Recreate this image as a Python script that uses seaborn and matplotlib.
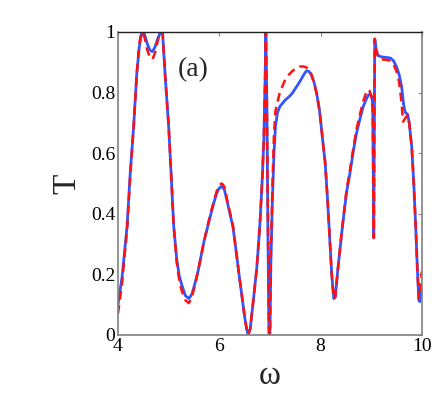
import numpy as np
import pandas as pd
import seaborn as sns
import matplotlib
matplotlib.use("Agg")
import matplotlib.pyplot as plt

# frequency samples (solid blue curve)
omega_blue = [4.00, 4.04, 4.08, 4.13, 4.18, 4.24, 4.31, 4.37, 4.42, 4.47, 4.52, 4.58,
              4.63, 4.68, 4.73, 4.79, 4.84, 4.88, 4.93, 5.00, 5.05, 5.10, 5.16, 5.21,
              5.26, 5.33, 5.40, 5.46, 5.52, 5.58, 5.64, 5.70, 5.76, 5.82, 5.89, 5.95,
              6.00, 6.05, 6.10, 6.15, 6.21, 6.27, 6.33, 6.39, 6.44, 6.50, 6.54, 6.57,
              6.61, 6.67, 6.74, 6.80, 6.85, 6.88, 6.90, 6.92, 6.94, 6.96, 6.98, 7.00,
              7.02, 7.05, 7.08, 7.11, 7.15, 7.20, 7.30, 7.40, 7.45, 7.52, 7.59, 7.66,
              7.72, 7.77, 7.82, 7.87, 7.92, 7.98, 8.05, 8.09, 8.14, 8.18, 8.22, 8.26,
              8.29, 8.34, 8.42, 8.51, 8.58, 8.65, 8.71, 8.78, 8.84, 8.90, 8.95, 8.98,
              9.01, 9.03, 9.05, 9.07, 9.10, 9.14, 9.20, 9.30, 9.38, 9.44, 9.50, 9.55,
              9.60, 9.64, 9.67, 9.72, 9.75, 9.80, 9.84, 9.88, 9.91, 9.94, 9.96, 9.98, 10.00]
T_blue = [0.10, 0.145, 0.19, 0.275, 0.36, 0.53, 0.69, 0.86, 0.95, 1.00, 0.995, 0.96,
          0.94, 0.935, 0.95, 0.98, 1.00, 1.00, 0.86, 0.69, 0.53, 0.36, 0.25, 0.195,
          0.165, 0.13, 0.12, 0.135, 0.17, 0.21, 0.26, 0.31, 0.35, 0.39, 0.435, 0.468,
          0.485, 0.49, 0.48, 0.445, 0.40, 0.357, 0.28, 0.20, 0.137, 0.06, 0.02, 0.00,
          0.02, 0.11, 0.22, 0.36, 0.52, 0.65, 0.80, 1.00, 0.75, 0.35, 0.00, 0.00,
          0.25, 0.45, 0.60, 0.69, 0.735, 0.755, 0.775, 0.79, 0.80, 0.818, 0.836, 0.857,
          0.872, 0.87, 0.858, 0.835, 0.80, 0.74, 0.63, 0.57, 0.44, 0.32, 0.20, 0.12,
          0.125, 0.215, 0.34, 0.468, 0.534, 0.61, 0.666, 0.715, 0.753, 0.778, 0.793, 0.795,
          0.786, 0.76, 0.32, 0.977, 0.94, 0.922, 0.918, 0.916, 0.914, 0.905, 0.885, 0.86,
          0.82, 0.76, 0.735, 0.728, 0.70, 0.62, 0.50, 0.35, 0.22, 0.115, 0.11, 0.13, 0.15]

# dashed red curve
omega_red = [4.00, 4.04, 4.08, 4.13, 4.18, 4.24, 4.31, 4.37, 4.42, 4.46, 4.52, 4.58,
             4.63, 4.68, 4.73, 4.79, 4.84, 4.88, 4.93, 5.00, 5.05, 5.10, 5.16, 5.21,
             5.26, 5.33, 5.40, 5.46, 5.52, 5.58, 5.64, 5.70, 5.76, 5.82, 5.89, 5.95,
             6.00, 6.05, 6.10, 6.15, 6.21, 6.27, 6.33, 6.39, 6.44, 6.50, 6.54, 6.57,
             6.61, 6.67, 6.74, 6.80, 6.85, 6.88, 6.90, 6.92, 6.94, 6.96, 6.98, 7.00,
             7.02, 7.05, 7.08, 7.11, 7.15, 7.20, 7.30, 7.37, 7.43, 7.51, 7.59, 7.67,
             7.75, 7.82, 7.89, 7.94, 7.98, 8.05, 8.09, 8.14, 8.18, 8.22, 8.26,
             8.29, 8.34, 8.42, 8.51, 8.58, 8.65, 8.71, 8.78, 8.84, 8.89, 8.93, 8.97,
             9.00, 9.03, 9.05, 9.07, 9.10, 9.14, 9.20, 9.30, 9.38, 9.44, 9.50, 9.55,
             9.59, 9.63, 9.67, 9.72, 9.75, 9.80, 9.84, 9.88, 9.91, 9.94, 9.96, 9.98, 10.00]
T_red = [0.07, 0.12, 0.17, 0.26, 0.35, 0.52, 0.69, 0.86, 0.96, 1.00, 0.985, 0.94,
         0.915, 0.91, 0.93, 0.975, 1.00, 1.00, 0.86, 0.69, 0.53, 0.36, 0.24, 0.18,
         0.145, 0.115, 0.105, 0.125, 0.165, 0.21, 0.26, 0.31, 0.355, 0.395, 0.44, 0.475,
         0.495, 0.50, 0.49, 0.45, 0.405, 0.36, 0.28, 0.20, 0.137, 0.06, 0.02, 0.00,
         0.02, 0.11, 0.22, 0.36, 0.52, 0.65, 0.80, 1.00, 0.77, 0.38, 0.02, 0.00,
         0.28, 0.50, 0.66, 0.74, 0.77, 0.803, 0.842, 0.858, 0.869, 0.88, 0.886, 0.886,
         0.881, 0.86, 0.82, 0.78, 0.74, 0.63, 0.57, 0.44, 0.32, 0.20, 0.12,
         0.125, 0.215, 0.345, 0.475, 0.545, 0.62, 0.68, 0.73, 0.77, 0.795, 0.81, 0.805,
         0.79, 0.74, 0.32, 0.977, 0.935, 0.915, 0.91, 0.908, 0.905, 0.893, 0.87, 0.835,
         0.78, 0.704, 0.715, 0.726, 0.70, 0.62, 0.50, 0.35, 0.22, 0.12, 0.14, 0.18, 0.21]

x_ticks = [4, 6, 8, 10]
x_ticklabels = ["4", "6", "8", "10"]
y_ticks = [0, 0.2, 0.4, 0.6, 0.8, 1.0]
y_ticklabels = ["0", "0.2", "0.4", "0.6", "0.8", "1"]

blue = pd.DataFrame({"omega": omega_blue, "T": T_blue})
red = pd.DataFrame({"omega": omega_red, "T": T_red})

sns.set_style("white")
plt.rcParams["font.family"] = "serif"
plt.rcParams["font.serif"] = ["Liberation Serif", "DejaVu Serif"]

fig = plt.figure(figsize=(4.36, 3.95), dpi=100)
ax = fig.add_axes([0.2706, 0.152, 0.697, 0.767])

sns.lineplot(data=blue, x="omega", y="T", ax=ax, color="#3355ff", lw=2.0, sort=False)
sns.lineplot(data=red, x="omega", y="T", ax=ax, color="#ff1111", lw=1.8,
             linestyle=(0, (3.5, 2.2)), sort=False)

ax.set_xlim(4, 10)
ax.set_ylim(0, 1)
ax.set_xticks(x_ticks)
ax.set_xticklabels(x_ticklabels)
ax.set_yticks(y_ticks)
ax.set_yticklabels(y_ticklabels)
ax.tick_params(direction="in", length=3, width=0.8, labelsize=14, colors="#888888",
               labelcolor="black", top=True, right=True, pad=2)
for side in ["left", "bottom", "right"]:
    ax.spines[side].set_color("#808080")
    ax.spines[side].set_linewidth(1.2)
ax.spines["top"].set_color("#222222")
ax.spines["top"].set_linewidth(1.0)

ax.set_xlabel("ω", fontsize=24, labelpad=4)
ax.set_ylabel("T", fontsize=24, labelpad=6)
ax.text(5.18, 0.875, "(a)", fontsize=20, va="center", ha="left")

fig.savefig("out.png", dpi=100)
